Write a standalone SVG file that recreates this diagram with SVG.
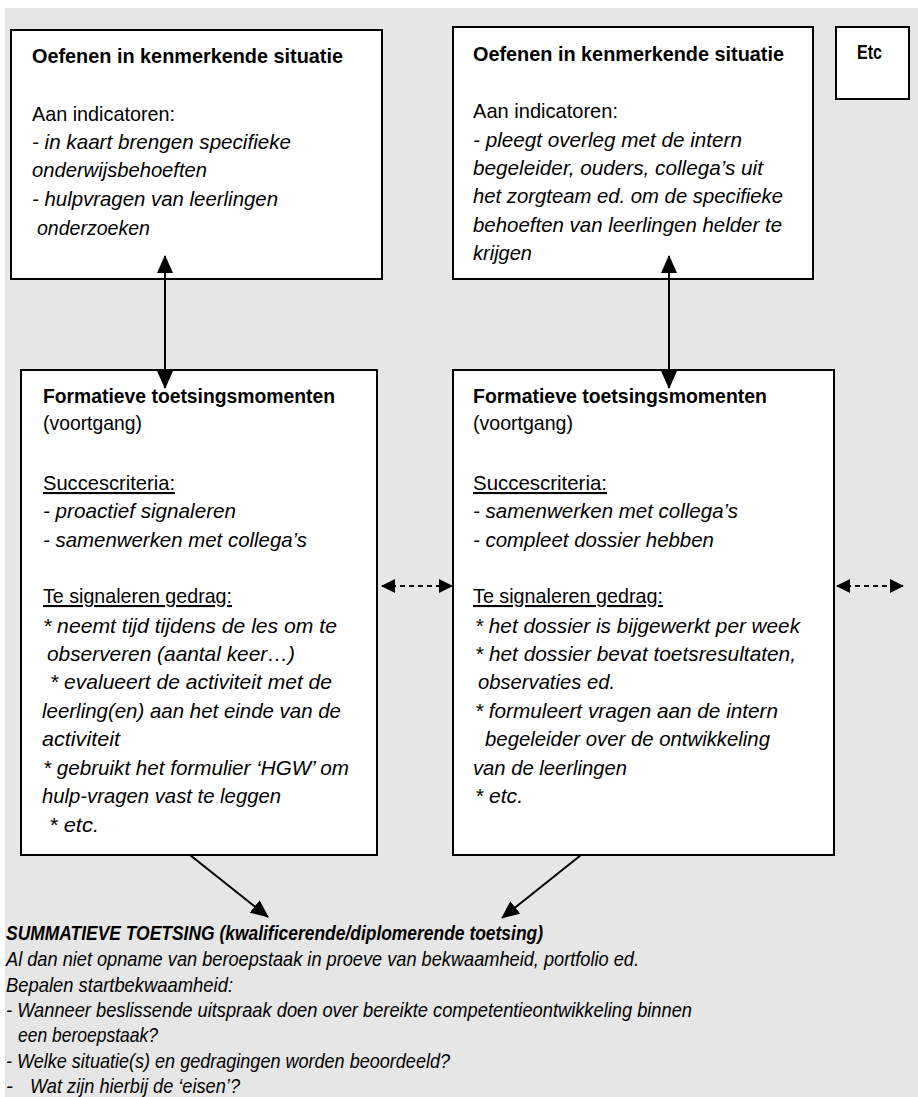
<svg xmlns="http://www.w3.org/2000/svg" width="918" height="1097" viewBox="0 0 918 1097">
<defs>
<style>
text{font-family:"Liberation Sans",Arial,sans-serif;font-size:21px;fill:#000}
.b{font-weight:bold}
.i{font-style:italic}
.bi{font-weight:bold;font-style:italic}
.u{text-decoration:underline}
.box{fill:#fff;stroke:#000;stroke-width:2}
.con{stroke:#000;stroke-width:2;fill:none}
.dash{stroke-dasharray:5 4}
</style>
<marker id="ah" markerUnits="userSpaceOnUse" viewBox="0 0 18 16" markerWidth="18" markerHeight="16" refX="17" refY="8" orient="auto-start-reverse"><path d="M0,0 L18,8 L0,16 z" fill="#000"/></marker>
<marker id="as" markerUnits="userSpaceOnUse" viewBox="0 0 14 14" markerWidth="14" markerHeight="14" refX="13" refY="7" orient="auto-start-reverse"><path d="M0,0 L14,7 L0,14 z" fill="#000"/></marker>
</defs>
<rect x="5" y="8" width="913" height="1089" fill="#e6e6e6"/>

<g id="node-oefenen1">
<rect class="box" x="11" y="30" width="371" height="249"/>
<text class="b" x="32" y="63" textLength="311" lengthAdjust="spacingAndGlyphs">Oefenen in kenmerkende situatie</text>
<text x="32" y="121" textLength="143" lengthAdjust="spacingAndGlyphs">Aan indicatoren:</text>
<text class="i" x="32" y="149" textLength="259" lengthAdjust="spacingAndGlyphs">- in kaart brengen specifieke</text>
<text class="i" x="32" y="177" textLength="175" lengthAdjust="spacingAndGlyphs">onderwijsbehoeften</text>
<text class="i" x="32" y="206" textLength="246" lengthAdjust="spacingAndGlyphs">- hulpvragen van leerlingen</text>
<text class="i" x="37" y="235" textLength="113" lengthAdjust="spacingAndGlyphs">onderzoeken</text>
</g>

<g id="node-oefenen2">
<rect class="box" x="453" y="27" width="360" height="252"/>
<text class="b" x="473" y="61" textLength="311" lengthAdjust="spacingAndGlyphs">Oefenen in kenmerkende situatie</text>
<text x="473" y="118" textLength="145" lengthAdjust="spacingAndGlyphs">Aan indicatoren:</text>
<text class="i" x="473" y="147" textLength="269" lengthAdjust="spacingAndGlyphs">- pleegt overleg met de intern</text>
<text class="i" x="473" y="175" textLength="290" lengthAdjust="spacingAndGlyphs">begeleider, ouders, collega’s uit</text>
<text class="i" x="473" y="203" textLength="310" lengthAdjust="spacingAndGlyphs">het zorgteam ed. om de specifieke</text>
<text class="i" x="473" y="232" textLength="309" lengthAdjust="spacingAndGlyphs">behoeften van leerlingen helder te</text>
<text class="i" x="473" y="260" textLength="59" lengthAdjust="spacingAndGlyphs">krijgen</text>
</g>

<g id="node-etc">
<rect class="box" x="836" y="27" width="73" height="72"/>
<text class="b" x="857" y="59" textLength="25" lengthAdjust="spacingAndGlyphs">Etc</text>
</g>

<g id="node-formatief1">
<rect class="box" x="21" y="370" width="356" height="485"/>
<text class="b" x="43" y="403" textLength="292" lengthAdjust="spacingAndGlyphs">Formatieve toetsingsmomenten</text>
<text x="43" y="430" textLength="99" lengthAdjust="spacingAndGlyphs">(voortgang)</text>
<text class="u" x="43" y="490" textLength="132" lengthAdjust="spacingAndGlyphs">Succescriteria:</text>
<text class="i" x="43" y="518" textLength="193" lengthAdjust="spacingAndGlyphs">- proactief signaleren</text>
<text class="i" x="43" y="547" textLength="264" lengthAdjust="spacingAndGlyphs">- samenwerken met collega’s</text>
<text class="u" x="43" y="603" textLength="189" lengthAdjust="spacingAndGlyphs">Te signaleren gedrag:</text>
<text class="i" x="43" y="633" textLength="294" lengthAdjust="spacingAndGlyphs">* neemt tijd tijdens de les om te</text>
<text class="i" x="47" y="661" textLength="248" lengthAdjust="spacingAndGlyphs">observeren (aantal keer…)</text>
<text class="i" x="50" y="689" textLength="282" lengthAdjust="spacingAndGlyphs">* evalueert de activiteit met de</text>
<text class="i" x="42" y="718" textLength="299" lengthAdjust="spacingAndGlyphs">leerling(en) aan het einde van de</text>
<text class="i" x="42" y="746" textLength="78" lengthAdjust="spacingAndGlyphs">activiteit</text>
<text class="i" x="43" y="775" textLength="306" lengthAdjust="spacingAndGlyphs">* gebruikt het formulier ‘HGW’ om</text>
<text class="i" x="42" y="803" textLength="239" lengthAdjust="spacingAndGlyphs">hulp-vragen vast te leggen</text>
<text class="i" x="49" y="832" textLength="50" lengthAdjust="spacingAndGlyphs">* etc.</text>
</g>

<g id="node-formatief2">
<rect class="box" x="453" y="370" width="381" height="485"/>
<text class="b" x="473" y="403" textLength="294" lengthAdjust="spacingAndGlyphs">Formatieve toetsingsmomenten</text>
<text x="473" y="430" textLength="100" lengthAdjust="spacingAndGlyphs">(voortgang)</text>
<text class="u" x="473" y="490" textLength="134" lengthAdjust="spacingAndGlyphs">Succescriteria:</text>
<text class="i" x="473" y="518" textLength="265" lengthAdjust="spacingAndGlyphs">- samenwerken met collega’s</text>
<text class="i" x="473" y="547" textLength="241" lengthAdjust="spacingAndGlyphs">- compleet dossier hebben</text>
<text class="u" x="473" y="603" textLength="190" lengthAdjust="spacingAndGlyphs">Te signaleren gedrag:</text>
<text class="i" x="475" y="633" textLength="325" lengthAdjust="spacingAndGlyphs">* het dossier is bijgewerkt per week</text>
<text class="i" x="475" y="661" textLength="321" lengthAdjust="spacingAndGlyphs">* het dossier bevat toetsresultaten,</text>
<text class="i" x="478" y="689" textLength="137" lengthAdjust="spacingAndGlyphs">observaties ed.</text>
<text class="i" x="475" y="718" textLength="303" lengthAdjust="spacingAndGlyphs">* formuleert vragen aan de intern</text>
<text class="i" x="485" y="746" textLength="285" lengthAdjust="spacingAndGlyphs">begeleider over de ontwikkeling</text>
<text class="i" x="473" y="775" textLength="154" lengthAdjust="spacingAndGlyphs">van de leerlingen</text>
<text class="i" x="475" y="803" textLength="48" lengthAdjust="spacingAndGlyphs">* etc.</text>
</g>

<g id="node-summatief">
<text class="bi" x="6" y="940" textLength="537" lengthAdjust="spacingAndGlyphs">SUMMATIEVE TOETSING (kwalificerende/diplomerende toetsing)</text>
<text class="i" x="6" y="966" textLength="633" lengthAdjust="spacingAndGlyphs">Al dan niet opname van beroepstaak in proeve van bekwaamheid, portfolio ed.</text>
<text class="i" x="6" y="992" textLength="227" lengthAdjust="spacingAndGlyphs">Bepalen startbekwaamheid:</text>
<text class="i" x="6" y="1017" textLength="686" lengthAdjust="spacingAndGlyphs">- Wanneer beslissende uitspraak doen over bereikte competentieontwikkeling binnen</text>
<text class="i" x="18" y="1042" textLength="140" lengthAdjust="spacingAndGlyphs">een beroepstaak?</text>
<text class="i" x="6" y="1068" textLength="444" lengthAdjust="spacingAndGlyphs">- Welke situatie(s) en gedragingen worden beoordeeld?</text>
<text class="i" x="6" y="1093">-</text>
<text class="i" x="30" y="1093" textLength="210" lengthAdjust="spacingAndGlyphs">Wat zijn hierbij de ‘eisen’?</text>
</g>

<g id="connectors">
<line class="con" x1="165" y1="256" x2="165" y2="388" marker-start="url(#ah)" marker-end="url(#ah)"/>
<line class="con" x1="669" y1="256" x2="669" y2="388" marker-start="url(#ah)" marker-end="url(#ah)"/>
<line class="con dash" x1="382" y1="586" x2="452" y2="586" marker-start="url(#as)" marker-end="url(#as)"/>
<line class="con dash" x1="837" y1="586" x2="903" y2="586" marker-start="url(#as)" marker-end="url(#as)"/>
<line class="con" x1="190" y1="855" x2="268" y2="917" marker-end="url(#ah)"/>
<line class="con" x1="581" y1="855" x2="502" y2="918" marker-end="url(#ah)"/>
</g>
</svg>
